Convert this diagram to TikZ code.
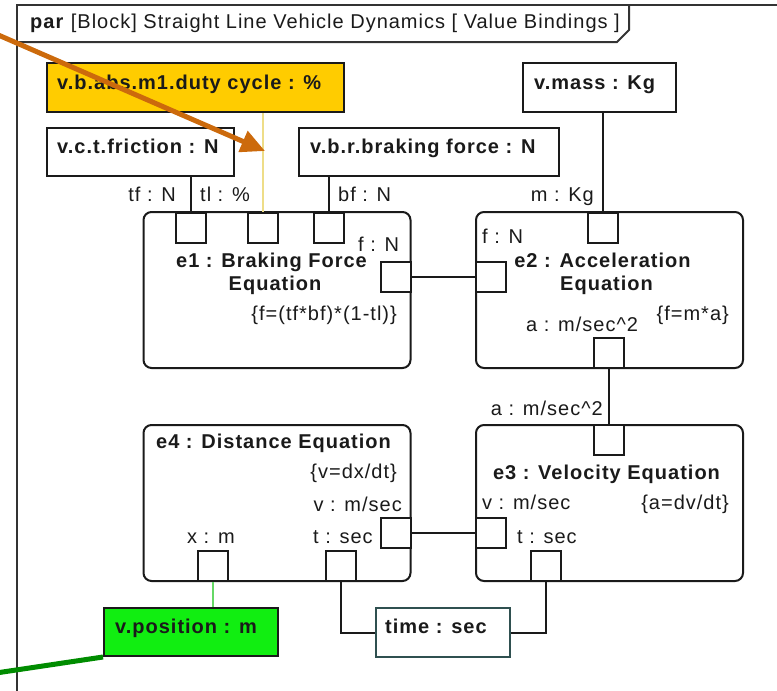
\documentclass[tikz,border=0pt]{standalone}
\usepackage{fontspec}
\setmainfont{Liberation Sans}[LetterSpace=5]
\usetikzlibrary{arrows.meta,positioning}
\definecolor{ink}{HTML}{1A1A1A}
\definecolor{frameln}{HTML}{333333}
\definecolor{dutyfill}{HTML}{FFCC00}
\definecolor{posfill}{HTML}{11EE11}
\definecolor{yellowln}{HTML}{EEDD88}
\definecolor{lightgreenln}{HTML}{66D866}
\definecolor{orangearrow}{HTML}{CC6A0C}
\definecolor{darkgreenln}{HTML}{008C00}
\definecolor{timeborder}{HTML}{2F5050}
\begin{document}
\begin{tikzpicture}[x=1pt,y=-1pt,
  every node/.style={font=\fontsize{20}{23}\selectfont, text=ink},
  valbox/.style={draw=ink, line width=2pt, inner sep=0pt},
  eqblock/.style={draw=ink, line width=2pt, rounded corners=8pt, inner sep=0pt, minimum width=267pt, minimum height=156pt},
  portbox/.style={draw=ink, line width=2pt, fill=white, inner sep=0pt, minimum size=30pt},
  conn/.style={draw=ink, line width=2pt},
  txt/.style={inner sep=0pt},
  btxt/.style={inner sep=0pt, font=\fontsize{20}{23}\selectfont\bfseries}
]
\useasboundingbox (0,0) rectangle (777,691);
% frame
\draw[frameln, line width=2pt] (17,700) -- (17,5) -- (790,5);
\draw[frameln, line width=2pt] (17,42) -- (617,42) -- (629,30) -- (629,5);
\node[txt, anchor=base west] (title) at (30,28) {\textbf{par} [Block] Straight Line Vehicle Dynamics [ Value Bindings ]};

% value boxes
\node[valbox, fill=dutyfill, minimum width=297pt, minimum height=49pt] (duty) at (195.5,87.5) {};
\node[valbox, fill=white, minimum width=153pt, minimum height=49pt] (mass) at (599.5,87.5) {};
\node[valbox, fill=white, minimum width=187pt, minimum height=48pt] (fric) at (140.5,152) {};
\node[valbox, fill=white, minimum width=260pt, minimum height=48pt] (brake) at (429,152) {};
\node[valbox, fill=posfill, minimum width=174pt, minimum height=48pt] (pos) at (191,632) {};
\node[valbox, draw=timeborder, fill=white, minimum width=134pt, minimum height=49pt] (time) at (443,632.5) {};

\node[btxt, anchor=base west] (dutyt) at (57,89) {v.b.abs.m1.duty cycle : \%};
\node[btxt, anchor=base west] (masst) at (534,89) {v.mass : Kg};
\node[btxt, anchor=base west] (frict) at (57,153) {v.c.t.friction : N};
\node[btxt, anchor=base west] (braket) at (310,153) {v.b.r.braking force : N};
\node[btxt, anchor=base west] (post) at (115,633) {v.position : m};
\node[btxt, anchor=base west] (timet) at (385,633) {time : sec};

% equation blocks
\node[eqblock] (e1) at (277,290) {};
\node[eqblock] (e2) at (609.5,290) {};
\node[eqblock] (e3) at (609.5,503) {};
\node[eqblock] (e4) at (277,503) {};

% ports
\node[portbox] (pA) at (191,227.5) {};
\node[portbox] (pB) at (263,227.5) {};
\node[portbox] (pC) at (329,227.5) {};
\node[portbox] (e1r) at (395.5,277) {};
\node[portbox] (e2l) at (491,277) {};
\node[portbox] (e2t) at (603,227.5) {};
\node[portbox] (e2b) at (608.5,353) {};
\node[portbox] (e3t) at (608.5,440) {};
\node[portbox] (e3l) at (491,533) {};
\node[portbox] (e3b) at (545.5,566) {};
\node[portbox] (e4r) at (395.5,533) {};
\node[portbox] (e4x) at (212.5,566) {};
\node[portbox] (e4t) at (341,566) {};

% connectors
\draw[conn] (pA.north) -- (pA.north |- fric.south);
\draw[yellowln, line width=2.5pt] (pB.north) -- (pB.north |- duty.south);
\draw[conn] (pC.north) -- (pC.north |- brake.south);
\draw[conn] (e2t.north) -- (e2t.north |- mass.south);
\draw[conn] (e1r.east) -- (e2l.west);
\draw[conn] (e2b.south) -- (e3t.north);
\draw[conn] (e4r.east) -- (e3l.west);
\draw[lightgreenln, line width=2pt] (e4x.south) -- (e4x.south |- pos.north);
\draw[conn] (e4t.south) |- (time.west);
\draw[conn] (e3b.south) |- (time.east);

% port labels
\node[txt, anchor=base east] (ltf) at (176,201) {tf : N};
\node[txt, anchor=base west] (ltl) at (200,201) {tl : \%};
\node[txt, anchor=base west] (lbf) at (338,201) {bf : N};
\node[txt, anchor=base east] (lm) at (594,201) {m : Kg};
\node[txt, anchor=base west] (lf1) at (358,251) {f : N};
\node[txt, anchor=base west] (lf2) at (482,243) {f : N};
\node[txt, anchor=base west] (la2) at (526,331) {a : m/sec\^{}2};
\node[txt, anchor=base east] (la3) at (603,415) {a : m/sec\^{}2};
\node[txt, anchor=base west] (lv3) at (482,509) {v : m/sec};
\node[txt, anchor=base west] (lt3) at (517,543) {t : sec};
\node[txt, anchor=base east] (lv4) at (402,511) {v : m/sec};
\node[txt, anchor=base west] (lx4) at (187,543) {x : m};
\node[txt, anchor=base west] (lt4) at (313,543) {t : sec};

% block titles and constraints
\node[btxt, anchor=base] (e1n1) at (271.5,267) {e1 : Braking Force};
\node[btxt, anchor=base] (e1n2) at (275,290) {Equation};
\node[txt, anchor=base east] (e1c) at (397,320) {\{f=(tf*bf)*(1-tl)\}};
\node[btxt, anchor=base] (e2n1) at (602.5,267) {e2 : Acceleration};
\node[btxt, anchor=base] (e2n2) at (606.5,290) {Equation};
\node[txt, anchor=base east] (e2c) at (729,320) {\{f=m*a\}};
\node[btxt, anchor=base] (e3n) at (606.5,479) {e3 : Velocity Equation};
\node[txt, anchor=base east] (e3c) at (729,509) {\{a=dv/dt\}};
\node[btxt, anchor=base west] (e4n) at (156,448) {e4 : Distance Equation};
\node[txt, anchor=base east] (e4c) at (397,478) {\{v=dx/dt\}};

% annotation pointers
\coordinate (oastart) at (-4,34);
\coordinate (oatip) at (265,151);
\draw[orangearrow, line width=5pt, -{Triangle[length=24pt,width=22pt]}] (oastart) -- (oatip);
\coordinate (glstart) at (-4,673);
\draw[darkgreenln, line width=5pt] (glstart) -- (pos.south west);
\end{tikzpicture}
\end{document}
